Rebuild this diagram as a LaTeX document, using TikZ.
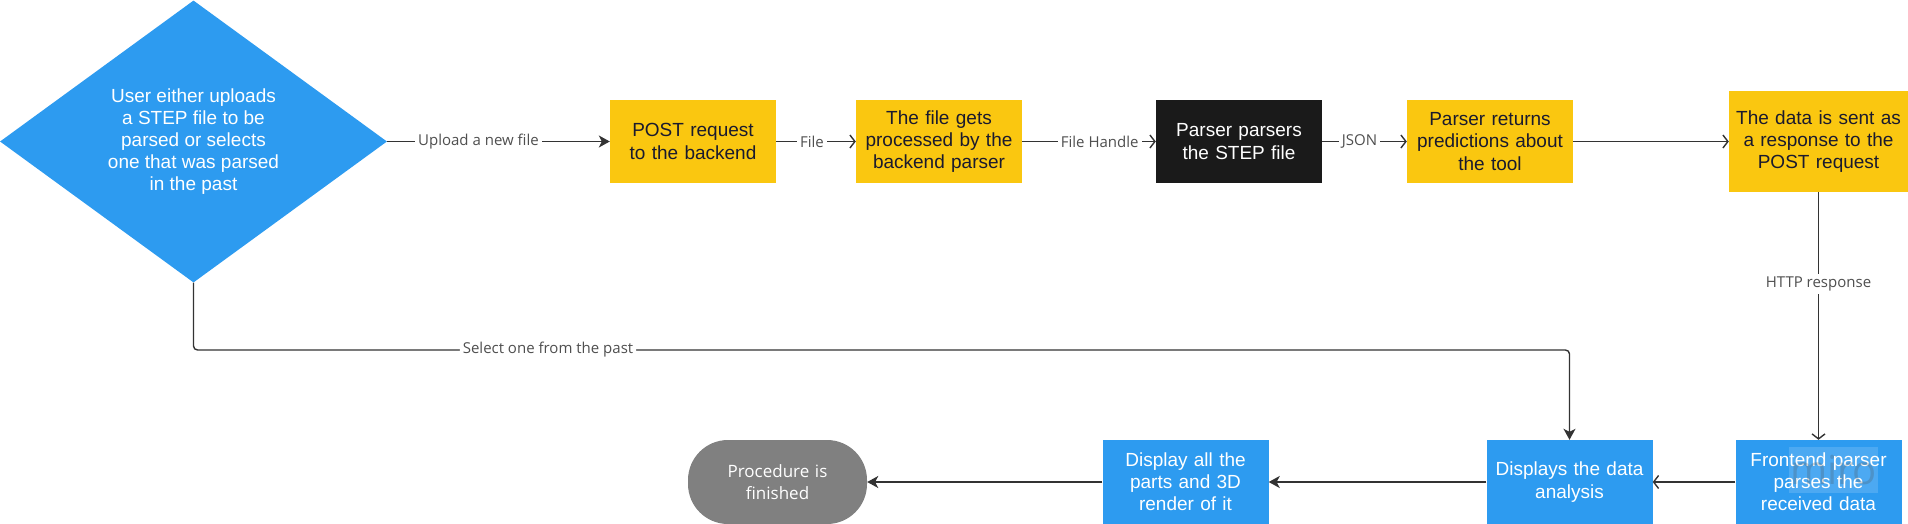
\documentclass[tikz,border=0pt]{standalone}
\usepackage{fontspec}
\setmainfont{Liberation Sans}
\newfontfamily\labelfont{Open Sans}
\usepackage{tikz}
\usetikzlibrary{shapes.geometric}
\usetikzlibrary{arrows.meta}
\definecolor{miroblue}{HTML}{2D9BF0}
\definecolor{miroyellow}{HTML}{FAC710}
\definecolor{mirogray}{HTML}{808080}
\definecolor{miroink}{HTML}{1A1A2E}
\definecolor{miroblack}{HTML}{1A1A1A}
\definecolor{linegray}{HTML}{333333}
\definecolor{lblgray}{HTML}{4F4F4F}
\tikzset{box/.style={inner sep=0, minimum width=166pt, minimum height=83pt, text width=164pt, align=center, font=\fontsize{19}{22.2}\selectfont}}
\tikzset{link/.style={draw=linegray, line width=1.4pt}}
\tikzset{every edge/.style={link}}
\tikzset{lbl/.style={fill=white, inner sep=3pt, text=lblgray, font=\labelfont\fontsize{15}{18}\selectfont}}
\tikzset{tipfill/.style={-{Stealth[length=11pt,width=12pt,inset=3pt]}}}
\tikzset{tipbarb/.style={-{Straight Barb[length=5pt,width=13pt]}}}

\begin{document}
\begin{tikzpicture}[x=1pt, y=-1pt]
    \useasboundingbox (0,0) rectangle (1908,524);

    \node[diamond, fill=miroblue, text=white, inner sep=0, shape aspect=1.37, minimum width=387pt, minimum height=282pt, align=center, font=\fontsize{19}{22.2}\selectfont] at (193.5, 141.5) (ask) {User either uploads\\a STEP file to be\\parsed or selects\\one that was parsed\\in the past};

    \node[box, fill=miroyellow, text=miroink] at (693, 141.5) (post) {POST request\\to the backend};
    \node[box, fill=miroyellow, text=miroink] at (939, 141.5) (proc) {The file gets\\processed by the\\backend parser};
    \node[box, fill=miroblack, text=white] at (1239, 141.5) (parse) {Parser parsers\\the STEP file};
    \node[box, fill=miroyellow, text=miroink] at (1490, 141.5) (pred) {Parser returns\\predictions about\\the tool};
    \node[box, fill=miroyellow, text=miroink, minimum width=179pt, minimum height=101pt, text width=175pt] at (1818.5, 141.5) (reply) {The data is sent as\\a response to the\\POST request};

    \node[box, fill=miroblue, text=white, minimum height=84pt] at (1818.5, 482) (front) {Frontend parser\\parses the\\received data};
    \node[box, fill=miroblue, text=white, minimum height=84pt] at (1569.5, 482) (show) {Displays the data\\analysis};
    \node[box, fill=miroblue, text=white, minimum height=84pt] at (1185.5, 482) (render) {Display all the\\parts and 3D\\render of it};
    \node[box, fill=mirogray, text=white, minimum width=179pt, minimum height=84pt, rounded corners=40pt, font=\labelfont\fontsize{17}{22.2}\selectfont] at (777.5, 482) (done) {Procedure is\\finished};

    % watermark on the frontend box
    \node[fill=white, fill opacity=0.15, text=lblgray, text opacity=0.25, minimum width=89pt, minimum height=46pt, inner sep=0, font=\labelfont\fontsize{40}{40}\selectfont] at (1833.5, 470) (mark) {miro};

    \draw (ask) edge[tipfill] node[lbl, pos=0.41] {Upload a new file} (post);
    \draw (post) edge[tipbarb] node[lbl, pos=0.45] {File} (proc);
    \draw (proc) edge[tipbarb] node[lbl, pos=0.58] {File Handle} (parse);
    \draw (parse) edge[tipbarb] node[lbl, pos=0.44] {JSON} (pred);
    \draw (pred) edge[tipbarb] (reply);
    \draw (reply) edge[tipbarb] node[lbl, pos=0.37] {HTTP response} (front);

    \coordinate (pastturn) at (548, 350);
    \draw[link, tipfill, rounded corners=4pt] (ask.south) |- (pastturn) node[lbl] {Select one from the past} -| (show.north);

    \draw (front) edge[tipbarb] (show);
    \draw (show) edge[tipfill] (render);
    \draw (render) edge[tipfill] (done);
  \end{tikzpicture}
\end{document}
